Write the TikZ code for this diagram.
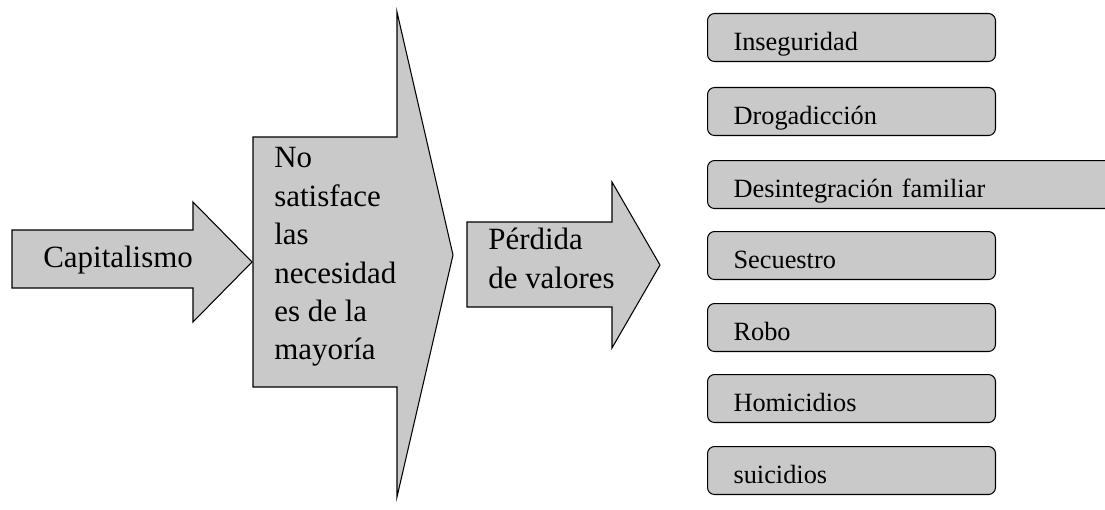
\documentclass[tikz,border=0pt]{standalone}
\usepackage{fontspec}
\setmainfont{Liberation Serif}
\definecolor{fondo}{gray}{0.79}
\begin{document}
\begin{tikzpicture}[x=0.02cm, y=-0.02cm,
    flecha/.style={draw, fill=fondo, line width=0.6pt},
    caja/.style={draw, fill=fondo, line width=0.6pt, rounded corners=4pt, anchor=north west,
      minimum height=0.96cm, inner xsep=0.52cm, inner ysep=0pt, text width=4.72cm,
      text height=0.74cm, text depth=0.22cm, align=left, font=\fontsize{15}{18}\selectfont},
    texto/.style={inner sep=0pt, align=left, font=\fontsize{17.6}{21.9}\selectfont}]
    \clip (0,0) rectangle (1105,510);

    % 矢印の定義
    \draw[flecha] (12,230) -- (193,230) -- (193,202) -- (252,262) -- (193,322) -- (193,288) -- (12,288) -- cycle;
    \draw[flecha] (253,137) -- (397,137) -- (397,12) -- (453,255) -- (397,497) -- (397,387) -- (253,387) -- cycle;
    \draw[flecha] (467,222) -- (612,222) -- (612,182) -- (660,265) -- (612,348) -- (612,307) -- (467,307) -- cycle;

    % 矢印の中のテキスト
    \node[texto, anchor=west] (cap) at (43,260) {Capitalismo};
    \node[texto, anchor=north west] (nosat) at (274,147) {No\\satisface\\las\\necesidad\\es de la\\mayoría};
    \node[texto, anchor=north west] (perd) at (488,228) {Pérdida\\de valores};

    % 結果のボックス
    \node[caja] (inse) at (707,13) {Inseguridad};
    \node[caja] (drog) at (707,87) {Drogadicción};
    \node[caja, text width=7.12cm] (desi) at (707,160) {Desintegración familiar};
    \node[caja] (secu) at (707,231) {Secuestro};
    \node[caja] (robo) at (707,303) {Robo};
    \node[caja] (homi) at (707,374) {Homicidios};
    \node[caja] (suic) at (707,446) {suicidios};

\end{tikzpicture}
\end{document}
